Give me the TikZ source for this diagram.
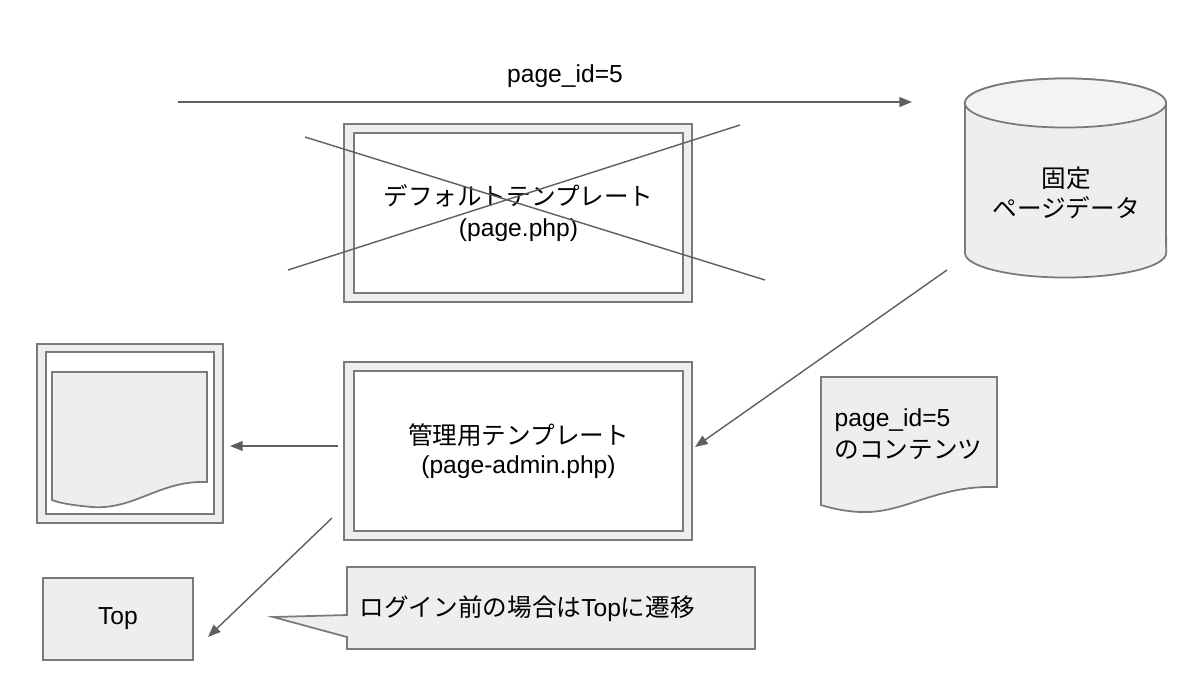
\documentclass[tikz,border=0pt]{standalone}
\usepackage{fontspec}
\setmainfont{Liberation Sans}
\newfontfamily\jp{Noto Sans CJK JP}
\usetikzlibrary{arrows.meta}
\definecolor{edge}{HTML}{7A7A7A}
\definecolor{shade}{HTML}{EEEEEE}
\definecolor{lid}{HTML}{F3F3F3}
\definecolor{ink}{HTML}{5F5F5F}
\tikzset{
  txt/.style={inner sep=0pt, font=\fontsize{7}{9}\selectfont},
  jptxt/.style={inner sep=0pt, align=center, font=\jp\fontsize{7}{8.6}\selectfont},
  frameout/.style={draw=edge, fill=shade, line width=0.5pt, inner sep=0pt},
  framein/.style={draw=edge, fill=white, line width=0.5pt, inner sep=0pt, align=center, font=\fontsize{7}{9}\selectfont},
  sheet/.style={draw=edge, fill=shade, line width=0.5pt},
  flow/.style={draw=ink, line width=0.4pt, -{Triangle[length=3.6pt,width=2.8pt]}},
  cross/.style={draw=ink, line width=0.4pt},
}

\begin{document}
\begin{tikzpicture}[x=0.01cm,y=-0.01cm]
\useasboundingbox (0,0) rectangle (1200,678);

% request with the page id
\coordinate (reqfrom) at (178,102);
\coordinate (reqto) at (912,102);
\draw[flow] (reqfrom) -- (reqto);
\node[txt] (reqid) at (565,76) {page\_id=5};

% default template, crossed out
\node[frameout, minimum width=3.48cm, minimum height=1.78cm] (tploldbg) at (518,213) {};
\node[framein, minimum width=3.29cm, minimum height=1.60cm] (tplold) at (518.5,213) {{\jp デフォルトテンプレート}\\(page.php)};
\draw[cross] (305,137) -- (765,280);
\draw[cross] (288,270) -- (740,125);

% fixed page data
\filldraw[draw=edge, fill=shade, line width=0.5pt] (965,103) -- (965,253)
  arc[start angle=180, end angle=360, x radius=1.005cm, y radius=0.245cm] -- (1166,103)
  arc[start angle=0, end angle=180, x radius=1.005cm, y radius=0.245cm] -- cycle;
\filldraw[draw=edge, fill=lid, line width=0.5pt] (1065.5,103) ellipse[x radius=1.005cm, y radius=0.245cm];
\node[jptxt] (db) at (1066,193) {固定\\ページデータ};

% admin template
\node[frameout, minimum width=3.48cm, minimum height=1.78cm] (tplnewbg) at (518,451) {};
\node[framein, minimum width=3.29cm, minimum height=1.60cm, font=\fontsize{7}{8.4}\selectfont] (tplnew) at (518.5,451) {{\jp 管理用テンプレート}\\(page-admin.php)};

% rendered page
\node[frameout, minimum width=1.86cm, minimum height=1.79cm] (resultbg) at (130,433.5) {};
\node[framein, minimum width=1.68cm, minimum height=1.62cm] (result) at (130,433) {};
\draw[sheet] (52,372) -- (207,372) -- (207,482)
  .. controls (160,480) and (135,510) .. (92,507)
  .. controls (70,505) and (60,503) .. (52,500) -- cycle;

% page contents
\draw[sheet] (821,377) -- (997,377) -- (997,487)
  .. controls (935,485) and (905,514) .. (860,512)
  .. controls (842,511) and (831,508) .. (821,505) -- cycle;
\node[txt, align=left, anchor=west] (content) at (834,434) {page\_id=5\\{\jp のコンテンツ}};

% top page
\node[sheet, minimum width=1.50cm, minimum height=0.82cm, inner sep=0pt, font=\fontsize{7}{9}\selectfont] (top) at (118,619) {\raisebox{-0.5pt}{Top}};

% note
\draw[sheet] (347,567) -- (755,567) -- (755,649) -- (347,649) -- (347,637) -- (273,617) -- (347,615) -- cycle;
\node[txt, anchor=west] (note) at (359,609) {{\jp ログイン前の場合は}Top{\jp に遷移}};

% connectors
\coordinate (dbfoot) at (947,270);
\coordinate (tplnewin) at (695,447);
\draw[flow] (dbfoot) -- (tplnewin);
\coordinate (tplnewleft) at (338,446);
\coordinate (resultin) at (230,446);
\draw[flow] (tplnewleft) -- (resultin);
\coordinate (tplnewout) at (332,518);
\coordinate (topin) at (208,637);
\draw[flow] (tplnewout) -- (topin);
\end{tikzpicture}
\end{document}
